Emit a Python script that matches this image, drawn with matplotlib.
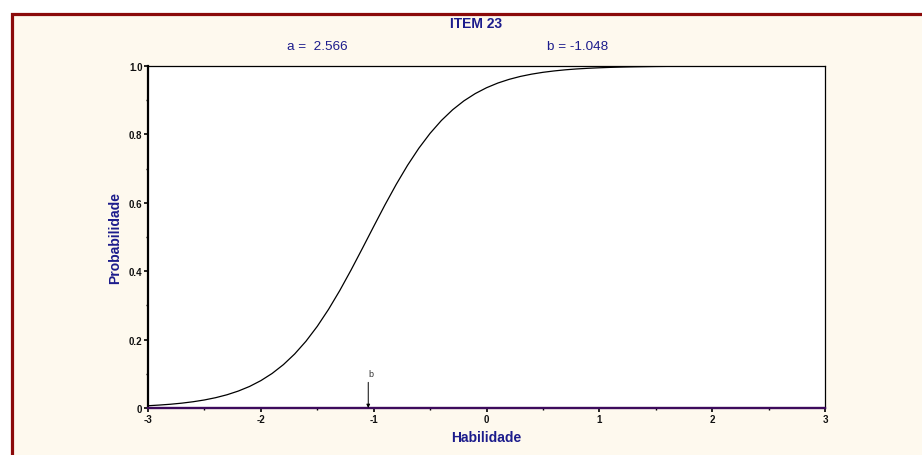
import matplotlib
matplotlib.use("Agg")
import matplotlib.pyplot as plt
from matplotlib.patches import Rectangle

# ---- data ----
theta = [-3.0, -2.9, -2.8, -2.7, -2.6, -2.5, -2.4, -2.3, -2.2, -2.1,
         -2.0, -1.9, -1.8, -1.7, -1.6, -1.5, -1.4, -1.3, -1.2, -1.1,
         -1.0, -0.9, -0.8, -0.7, -0.6, -0.5, -0.4, -0.3, -0.2, -0.1,
         0.0, 0.1, 0.2, 0.3, 0.4, 0.5, 0.6, 0.7, 0.8, 0.9,
         1.0, 1.1, 1.2, 1.3, 1.4, 1.5, 1.6, 1.7, 1.8, 1.9,
         2.0, 2.1, 2.2, 2.3, 2.4, 2.5, 2.6, 2.7, 2.8, 2.9, 3.0]
prob = [0.0066, 0.0086, 0.0110, 0.0142, 0.0183, 0.0235, 0.0302, 0.0387, 0.0495, 0.0630,
        0.0800, 0.1010, 0.1268, 0.1580, 0.1952, 0.2387, 0.2884, 0.3437, 0.4037, 0.4667,
        0.5307, 0.5938, 0.6539, 0.7095, 0.7594, 0.8031, 0.8406, 0.8721, 0.8981, 0.9193,
        0.9364, 0.9501, 0.9609, 0.9695, 0.9762, 0.9815, 0.9856, 0.9889, 0.9914, 0.9933,
        0.9948, 0.9960, 0.9969, 0.9976, 0.9981, 0.9986, 0.9989, 0.9991, 0.9993, 0.9995,
        0.9996, 0.9997, 0.9998, 0.9998, 0.9999, 0.9999, 0.9999, 1.0, 1.0, 1.0, 1.0]
item_title = "ITEM 23"
param_a = 2.566
param_b = -1.048
x_ticks = [-3, -2, -1, 0, 1, 2, 3]
x_ticklabels = ["-3", "-2", "-1", "0", "1", "2", "3"]
y_ticks = [0, 0.2, 0.4, 0.6, 0.8, 1.0]
y_ticklabels = ["0", "0.2", "0.4", "0.6", "0.8", "1.0"]

# ---- styling ----
plt.rcParams['font.family'] = ['Liberation Sans', 'DejaVu Sans']
CREAM = '#FEF9EE'
NAVY = '#1C1C8C'
BORDER = '#8B0A0A'
PURPLE = '#3D0B5C'

W, H = 922, 456
fig = plt.figure(figsize=(W / 100, H / 100), dpi=100)
fig.patch.set_facecolor('white')

# cream panel with dark red border on left/top
bg = Rectangle((11.5 / W, -0.05), 1.2, (H - 14.5) / H + 0.05, transform=fig.transFigure,
               facecolor=CREAM, edgecolor=BORDER, linewidth=2.3, zorder=-10)
fig.patches.append(bg)

ax = fig.add_axes([148 / W, (H - 409) / H, 677 / W, 342 / H])
ax.set_facecolor('white')

ax.plot(theta, prob, color='black', linewidth=0.9, zorder=3)

ax.set_xlim(-3, 3)
ax.set_ylim(0, 1)

ax.set_xticks(x_ticks)
ax.set_xticklabels(x_ticklabels)
ax.set_yticks(y_ticks)
ax.set_yticklabels(y_ticklabels)
ax.set_xticks([-2.5, -1.5, -0.5, 0.5, 1.5, 2.5], minor=True)
ax.set_yticks([0.1, 0.3, 0.5, 0.7, 0.9], minor=True)

ax.tick_params(axis='both', which='major', direction='out', length=3, width=1.2,
               labelsize=7, pad=1)
ax.tick_params(axis='both', which='minor', direction='out', length=1.5, width=1.0)
for lab in ax.get_xticklabels() + ax.get_yticklabels():
    lab.set_fontweight('bold')
    lab.set_color('#111111')

ax.spines['left'].set_linewidth(1.6)
ax.spines['left'].set_color('black')
ax.spines['top'].set_linewidth(0.9)
ax.spines['right'].set_linewidth(0.9)
ax.spines['bottom'].set_linewidth(1.7)
ax.spines['bottom'].set_color(PURPLE)

# marker for b
ax.annotate('', xy=(param_b, 0.0), xytext=(param_b, 0.075),
            arrowprops=dict(arrowstyle='-|>', color='black', lw=0.7,
                            mutation_scale=5, shrinkA=0, shrinkB=0), zorder=4)
ax.text(param_b + 0.02, 0.102, 'b', fontsize=6.5, color='#333333',
        ha='center', va='center')

ax.set_xlabel('Habilidade', fontsize=10, fontweight='bold', color=NAVY, labelpad=4.5)
ax.set_ylabel('Probabilidade', fontsize=10, fontweight='bold', color=NAVY, labelpad=5)

fig.text(476 / W, 1 - 24 / H, item_title, fontsize=10, fontweight='bold', color=NAVY,
         ha='center', va='center')
fig.text(287 / W, 1 - 47.5 / H, "a =  %.3f" % param_a, fontsize=9.7, color=NAVY,
         ha='left', va='center')
fig.text(547 / W, 1 - 47.5 / H, "b = %.3f" % param_b, fontsize=9.7, color=NAVY,
         ha='left', va='center')

fig.savefig('out.png', dpi=100, facecolor=fig.get_facecolor())
